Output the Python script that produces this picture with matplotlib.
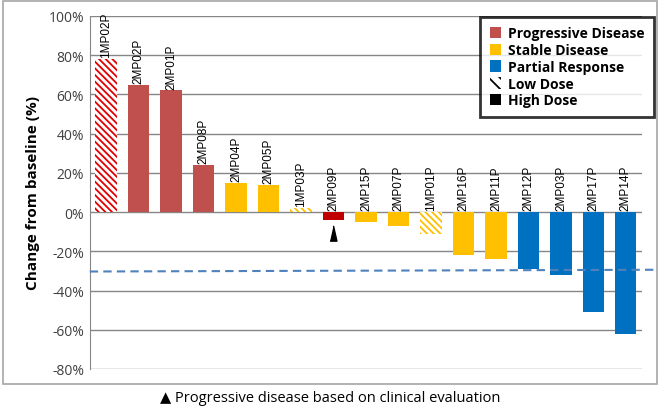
import matplotlib.pyplot as plt
from matplotlib.patches import Patch, Rectangle

plt.rcParams['font.family'] = ['Open Sans', 'DejaVu Sans']
plt.rcParams['hatch.linewidth'] = 1.3

# data
patients = ['1MP02P', '2MP02P', '2MP01P', '2MP08P', '2MP04P', '2MP05P', '1MP03P',
            '2MP09P', '2MP15P', '2MP07P', '1MP01P', '2MP16P', '2MP11P', '2MP12P',
            '2MP03P', '2MP17P', '2MP14P']
change = [78, 65, 62, 24, 15, 14, 2, -4, -5, -7, -11, -22, -24, -29, -32, -51, -62]
response = ['PD', 'PD', 'PD', 'PD', 'SD', 'SD', 'SD', 'PDc', 'SD', 'SD', 'SD', 'SD', 'SD',
            'PR', 'PR', 'PR', 'PR']
low_dose = ['1MP02P', '1MP03P', '1MP01P']
clinical_pd = ['2MP09P']
threshold = -30

colors = {'PD': '#C0504D', 'PDc': '#C00000', 'SD': '#FFC000', 'PR': '#0070C0'}
hatch_colors = {'PD': '#E00000', 'SD': '#FFC000'}

fig = plt.figure(figsize=(6.6, 4.1), dpi=100)
ax = fig.add_axes([0.136, 0.0976, 0.837, 0.861])

for i, (p, v, r) in enumerate(zip(patients, change, response)):
    c = colors[r]
    if p in low_dose:
        ax.bar(i, v, width=0.65, color='white', edgecolor=hatch_colors[r], hatch='\\\\\\\\\\',
               linewidth=0, zorder=3)
    else:
        ax.bar(i, v, width=0.65, color=c, linewidth=0, zorder=3)
    ax.text(i, max(v, 0) + 1, p, rotation=90, ha='center', va='bottom', fontsize=8.5,
            family=['Liberation Sans', 'DejaVu Sans'], zorder=4)
    if p in clinical_pd:
        ax.plot(i, v - 6.5, marker=[(-0.45, -1), (0.45, -1), (0, 1)], markersize=11,
                color='black', zorder=4)

ax.plot([-0.5, 17.0], [threshold - 0.3, threshold + 0.6], color='#4F81BD', lw=1.5,
        ls=(0, (4, 2.5)), clip_on=False, zorder=5)

ax.set_xlim(-0.5, 16.5)
ax.set_ylim(-80, 100)
ax.set_yticks(range(-80, 101, 20))
ax.set_yticklabels([f'{t}%' for t in range(-80, 101, 20)], fontsize=10)
ax.set_xticks([])
ax.grid(axis='y', color='#868686', lw=1, zorder=0)
for s in ['top', 'right', 'bottom']:
    ax.spines[s].set_visible(False)
ax.spines['left'].set_color('#868686')
ax.tick_params(axis='y', length=0, pad=4, labelcolor='#404040')
ax.set_ylabel('Change from baseline (%)', fontsize=11, fontweight='bold', labelpad=6)

handles = [Patch(facecolor=colors['PD']), Patch(facecolor=colors['SD']),
           Patch(facecolor=colors['PR']),
           Patch(facecolor='white', edgecolor='black', hatch='\\\\\\', linewidth=0),
           Patch(facecolor='black')]
labels = ['Progressive Disease', 'Stable Disease', 'Partial Response', 'Low Dose', 'High Dose']
leg = fig.legend(handles, labels, loc='upper right', bbox_to_anchor=(0.991, 0.957),
                 prop={'weight': 'bold', 'size': 10}, fancybox=False, edgecolor='black',
                 handlelength=0.8, handleheight=0.9, handletextpad=0.5,
                 labelspacing=0.2, borderpad=0.7, borderaxespad=0)
leg.get_frame().set_linewidth(2)

fig.patches.append(Rectangle((0.004, 0.061), 0.991, 0.934, transform=fig.transFigure,
                             fill=False, edgecolor='#A6A6A6', lw=1.2))
fig.text(0.5, 0.028, '\u25B2 Progressive disease based on clinical evaluation',
         ha='center', va='center', fontsize=10.5)

fig.savefig('out.png', dpi=100)
